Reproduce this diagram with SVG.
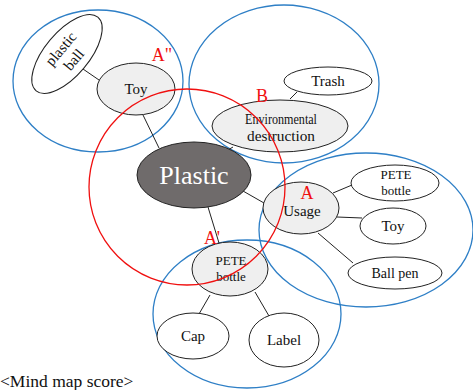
<svg xmlns="http://www.w3.org/2000/svg" width="473" height="390" viewBox="0 0 473 390">
<style>
.grp{fill:none;stroke:#2e7fc6;stroke-width:1.3}
.red{fill:none;stroke:#f01010;stroke-width:1.3}
.n{fill:#fff;stroke:#222;stroke-width:1}
.h{fill:#efefef;stroke:#222;stroke-width:1}
.t{font-family:'Liberation Serif','Times New Roman',serif;font-size:15px;fill:#111;text-anchor:middle}
.lab{font-family:'Liberation Serif','Times New Roman',serif;font-size:18px;fill:#f01010;text-anchor:middle}
.c line{stroke:#222;stroke-width:1}
</style>
<rect width="473" height="390" fill="#fff"/>
<g id="groups">
<ellipse class="grp" cx="98" cy="81" rx="85" ry="71"/>
<ellipse class="grp" cx="284" cy="84" rx="95" ry="79"/>
<ellipse class="grp" cx="366" cy="230" rx="107" ry="77"/>
<ellipse class="grp" cx="247" cy="314" rx="94" ry="74"/>
</g>
<g class="c" id="connectors">
<line x1="83" y1="69" x2="99" y2="80"/>
<line x1="143" y1="115" x2="159" y2="148"/>
<line x1="290" y1="99" x2="297" y2="92"/>
<line x1="233" y1="147" x2="226" y2="151"/>
<line x1="243" y1="191" x2="264" y2="203"/>
<line x1="333" y1="193" x2="352" y2="185"/>
<line x1="337" y1="217" x2="362" y2="218"/>
<line x1="318" y1="233" x2="353" y2="263"/>
<line x1="208" y1="207" x2="219" y2="243"/>
<line x1="210" y1="295" x2="199" y2="314"/>
<line x1="255" y1="292" x2="269" y2="316"/>
</g>
<g id="plastic-ball"><ellipse class="n" cx="67" cy="54" rx="48" ry="22" transform="rotate(-50 67 54)"/>
<text class="t" transform="translate(67 54) rotate(-50)"><tspan x="0" y="-3">plastic</tspan><tspan x="0" y="14">ball</tspan></text></g>
<g id="toy1"><ellipse class="h" cx="136" cy="89" rx="39" ry="26"/><text class="t" x="136" y="94">Toy</text></g>
<g id="trash"><ellipse class="n" cx="328" cy="81" rx="44" ry="14"/><text class="t" x="328" y="86">Trash</text></g>
<g id="env"><ellipse class="h" cx="280" cy="126" rx="68" ry="26"/>
<text class="t" x="281" y="124" textLength="72" lengthAdjust="spacingAndGlyphs">Environmental</text>
<text class="t" x="281" y="141" textLength="68" lengthAdjust="spacingAndGlyphs">destruction</text></g>
<g id="plastic"><ellipse cx="194" cy="175" rx="57" ry="33" fill="#6f6b6b" stroke="#222" stroke-width="1"/>
<text class="t" x="194" y="184" style="font-size:26px;fill:#fff">Plastic</text></g>
<g id="usage"><ellipse class="h" cx="301" cy="208" rx="38" ry="26"/><text class="t" x="302" y="216">Usage</text></g>
<g id="pete1"><ellipse class="n" cx="395" cy="183" rx="44" ry="18"/>
<text class="t" x="396" y="179" style="font-size:13px">PETE</text><text class="t" x="396" y="195" style="font-size:13px">bottle</text></g>
<g id="toy2"><ellipse class="n" cx="393" cy="226" rx="33" ry="18"/><text class="t" x="393" y="231">Toy</text></g>
<g id="ballpen"><ellipse class="n" cx="395" cy="273" rx="47" ry="16"/><text class="t" x="395" y="278" style="font-size:14px">Ball pen</text></g>
<g id="pete2"><ellipse class="h" cx="230" cy="269" rx="38" ry="27"/>
<text class="t" x="231" y="265" style="font-size:13px">PETE</text><text class="t" x="231" y="281" style="font-size:13px">bottle</text></g>
<g id="cap"><ellipse class="n" cx="193" cy="336" rx="36" ry="23"/><text class="t" x="193" y="341">Cap</text></g>
<g id="label"><ellipse class="n" cx="284" cy="340" rx="35" ry="27"/><text class="t" x="284" y="345">Label</text></g>
<circle class="red" cx="187" cy="187" r="98"/>
<g id="labels">
<text class="lab" x="162" y="61">A"</text>
<text class="lab" x="262" y="102">B</text>
<text class="lab" x="307" y="199">A</text>
<text class="lab" x="212" y="244">A'</text>
</g>
<text x="0" y="387" style="font-family:'Liberation Serif','Times New Roman',serif;font-size:17.5px;fill:#111">&lt;Mind map score&gt;</text>
</svg>
